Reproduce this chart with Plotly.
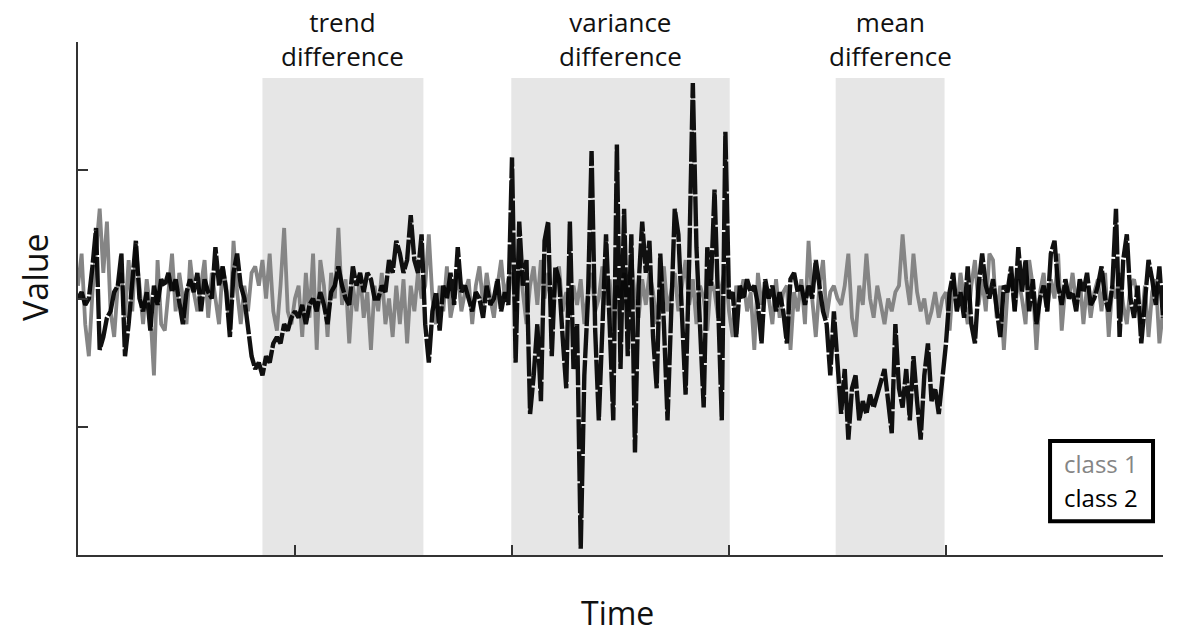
import plotly.graph_objects as go

# ---------------- data ----------------
# time index 0..300
time = list(range(301))

class1 = [
    # 0-50
    0.1, 0.35, -0.2, -0.45, 0.05, 0.4, 0.7, 0.2, 0.6, -0.1,
    -0.3, 0.1, 0.2, -0.15, 0.3, -0.1, 0.4, 0.1, -0.2, 0.15,
    -0.1, -0.6, 0.3, -0.2, -0.25, 0.05, 0.35, -0.1, 0.2, 0.0,
    -0.2, 0.3, 0.05, -0.1, 0.1, 0.3, -0.15, 0.2, 0.0, -0.2,
    0.25, 0.1, -0.25, 0.45, 0.05, -0.2, 0.1, -0.1, 0.2, 0.25,
    0.1,
    # 51-95
    0.3, 0.0, 0.35, -0.1, -0.25, 0.1, 0.55, -0.1, -0.2, 0.0,
    0.1, -0.3, 0.2, -0.15, 0.35, -0.4, 0.3, 0.1, -0.3, 0.2,
    0.0, 0.55, -0.05, 0.15, -0.35, 0.1, -0.1, 0.2, -0.15, 0.05,
    -0.4, 0.1, -0.1, 0.2, -0.2, 0.0, -0.3, 0.1, -0.2, 0.15,
    -0.35, 0.1, -0.1, 0.2, 0.0,
    # 96-119
    0.1, 0.5, 0.0, -0.2, 0.1, -0.1, 0.25, -0.15, 0.0, 0.2,
    -0.1, 0.05, 0.15, -0.2, 0.1, 0.25, -0.05, 0.2, 0.0, -0.15,
    0.1, 0.3, 0.0, 0.15,
    # 120-180
    0.2, -0.1, 0.3, 0.05, -0.2, 0.1, 0.25, -0.05, 0.3, 0.0,
    0.2, -0.15, 0.1, 0.25, -0.1, 0.05, -0.15, 0.1, -0.05, 0.15,
    -0.2, 0.05, 0.2, -0.1, 0.0, 0.25, -0.05, 0.15, -0.25, 0.1,
    0.0, 0.2, -0.1, 0.3, 0.0, -0.15, 0.15, -0.05, 0.2, 0.05,
    -0.2, 0.1, 0.25, -0.1, 0.05, 0.2, -0.1, 0.1, 0.3, -0.05,
    0.15, -0.2, 0.1, 0.0, -0.25, 0.15, 0.05, -0.15, 0.1, 0.25,
    -0.1,
    # 181-209
    -0.3, 0.1, 0.0, 0.15, -0.1, 0.05, -0.4, 0.2, -0.05, 0.1,
    0.0, -0.2, 0.15, -0.15, 0.05, 0.1, -0.4, 0.05, -0.1, 0.15,
    -0.2, 0.45, 0.0, -0.3, 0.1, 0.3, -0.15, 0.05, 0.1,
    # 210-239
    0.0, -0.05, 0.1, 0.35, -0.15, -0.3, 0.1, -0.05, 0.35, 0.0,
    -0.15, 0.1, -0.05, -0.2, 0.0, -0.1, 0.05, 0.1, 0.5, 0.15,
    -0.05, 0.35, 0.05, -0.1, 0.0, -0.2, -0.1, 0.05, -0.15, 0.0,
    # 240-300
    0.05, -0.25, 0.15, -0.1, 0.2, 0.0, -0.2, 0.1, 0.3, -0.05,
    0.15, -0.1, 0.35, 0.3, -0.15, 0.1, -0.4, 0.05, 0.2, -0.1,
    0.15, 0.0, -0.2, 0.3, 0.1, -0.4, 0.05, 0.2, -0.1, 0.15,
    0.0, 0.35, -0.25, 0.1, 0.0, 0.2, -0.05, 0.15, -0.2, 0.1,
    -0.15, 0.05, 0.15, -0.1, 0.2, -0.3, 0.1, 0.0, 0.2, -0.05,
    -0.2, 0.1, 0.15, 0.0, -0.2, 0.1, -0.3, 0.05, 0.15, -0.35,
    -0.1,
]

class2 = [
    # 0-50
    0.0, 0.05, -0.05, 0.0, 0.25, 0.55, -0.4, -0.3, -0.15, -0.1,
    0.05, 0.1, 0.35, -0.45, -0.2, 0.1, 0.45, 0.0, -0.1, 0.05,
    -0.25, 0.1, -0.05, 0.15, 0.1, 0.2, 0.05, 0.15, -0.05, -0.2,
    0.05, 0.15, 0.05, 0.2, -0.1, 0.15, 0.05, 0.0, 0.4, 0.1,
    0.25, 0.05, -0.3, 0.2, 0.35, 0.1, 0.0, -0.2, -0.45, -0.55,
    -0.5,
    # 51-95
    -0.6, -0.45, -0.5, -0.35, -0.3, -0.35, -0.2, -0.25, -0.15, -0.1,
    -0.15, -0.05, -0.2, -0.05, 0.0, -0.1, 0.05, -0.05, -0.2, 0.05,
    0.1, 0.25, 0.1, 0.0, -0.05, 0.25, 0.1, 0.2, 0.05, 0.2,
    0.15, 0.0, 0.0, 0.1, 0.05, 0.3, 0.2, 0.45, 0.35, 0.2,
    0.3, 0.65, 0.3, 0.2, 0.5,
    # 96-119
    -0.2, -0.5, -0.1, 0.05, -0.25, 0.1, 0.0, 0.2, -0.05, 0.4,
    0.05, 0.1, 0.0, -0.1, 0.05, 0.0, -0.15, 0.1, -0.05, 0.0,
    0.15, -0.1, 0.05, -0.05,
    # 120-180
    1.1, -0.5, 0.6, 0.1, 0.3, -0.9, -0.6, -0.2, -0.8, 0.45,
    0.6, -0.45, 0.25, 0.15, -0.3, -0.7, 0.6, -0.55, -0.2, -1.95,
    -0.6, 0.0, 1.15, -0.25, -0.95, -0.3, 0.5, -0.2, -0.95, 1.2,
    -0.55, 0.7, -0.45, 0.5, -1.2, 0.1, 0.6, 0.2, 0.45, -0.3,
    -0.7, 0.35, -0.2, -0.95, 0.0, 0.7, 0.5, -0.2, -0.75, 0.3,
    1.68, 0.4, -0.3, -0.85, 0.4, 0.1, 0.85, -0.2, -0.95, 1.3,
    0.0,
    # 181-209
    0.05, -0.3, 0.1, 0.0, 0.15, 0.05, 0.1, -0.05, -0.35, 0.15,
    0.0, 0.1, -0.1, 0.05, -0.1, -0.35, 0.15, 0.2, 0.05, 0.1,
    -0.05, 0.1, 0.0, 0.3, 0.1, -0.1, -0.2, -0.6, -0.1,
    # 210-239
    -0.5, -0.9, -0.55, -1.1, -0.7, -0.6, -0.95, -0.8, -0.9, -0.75,
    -0.85, -0.75, -0.65, -0.55, -0.8, -1.05, -0.2, -0.7, -0.85, -0.55,
    -0.95, -0.45, -0.8, -1.1, -0.6, -0.35, -0.8, -0.7, -0.9, -0.6,
    # 240-300
    -0.35, 0.05, 0.2, -0.1, 0.05, -0.15, 0.25, -0.2, -0.35, 0.1,
    0.35, 0.1, 0.0, 0.15, -0.05, -0.3, 0.1, 0.05, 0.25, -0.1,
    0.4, 0.05, 0.3, -0.1, 0.15, -0.2, 0.0, 0.1, -0.1, 0.35,
    0.45, 0.1, -0.05, 0.15, 0.0, 0.05, -0.1, 0.15, 0.05, 0.2,
    -0.05, 0.0, 0.1, 0.25, 0.0, -0.1, 0.1, 0.7, -0.3, 0.3,
    0.5, 0.0, -0.15, 0.1, -0.35, 0.0, 0.3, 0.15, -0.05, 0.25,
    -0.15,
]

# shaded regions: (start, end, label)
regions = [
    (51, 95.5, "trend<br>difference"),
    (119.8, 180.2, "variance<br>difference"),
    (209.5, 239.6, "mean<br>difference"),
]
series_names = ["class 1", "class 2"]
x_ticks = [0, 60, 120, 180, 240, 300]
y_ticks = [-2, -1, 0, 1, 2]

# ---------------- figure ----------------
FONT = "Open Sans, Noto Sans, sans-serif"
fig = go.Figure()

for x0, x1, _ in regions:
    fig.add_shape(type="rect", xref="x", yref="y", x0=x0, x1=x1, y0=-2, y1=1.72,
                  fillcolor="#e6e6e6", line=dict(width=0), layer="below")

fig.add_trace(go.Scatter(x=time, y=class1, mode="lines", name=series_names[0],
                         line=dict(color="#858585", width=3.8), showlegend=False))
fig.add_trace(go.Scatter(x=time, y=class2, mode="lines", name=series_names[1],
                         line=dict(color="#000000", width=4.4, dash="30px,2px"),
                         opacity=0.93, showlegend=False))

for x0, x1, label in regions:
    fig.add_annotation(x=(x0 + x1) / 2, xref="x", y=1.0066, yref="paper",
                       text=label, showarrow=False, xanchor="center", yanchor="middle",
                       font=dict(family=FONT, size=26, color="#111111"))

fig.add_annotation(x=-0.0396, xref="paper", y=0.542, yref="paper", text="Value",
                   textangle=-90, showarrow=False, xanchor="center", yanchor="middle",
                   font=dict(family=FONT, size=34, color="#111111"))
fig.add_annotation(x=0.4968, xref="paper", y=-0.113, yref="paper", text="Time",
                   showarrow=False, xanchor="center", yanchor="middle",
                   font=dict(family=FONT, size=32, color="#111111"))

# legend box
fig.add_shape(type="rect", xref="paper", yref="paper", x0=0.8959, x1=0.9908,
              y0=0.066, y1=0.2222, line=dict(color="black", width=4),
              fillcolor="white")
fig.add_annotation(x=0.9433, xref="paper", y=0.1793, yref="paper", text=series_names[0],
                   showarrow=False, xanchor="center", yanchor="middle",
                   font=dict(family=FONT, size=24, color="#858585"))
fig.add_annotation(x=0.9433, xref="paper", y=0.113, yref="paper", text=series_names[1],
                   showarrow=False, xanchor="center", yanchor="middle",
                   font=dict(family=FONT, size=24, color="#000000"))

axis_common = dict(showgrid=False, zeroline=False, showline=True, linecolor="#333333",
                   linewidth=2, ticks="inside", ticklen=10, tickwidth=2,
                   tickcolor="#333333", showticklabels=False)
fig.update_xaxes(range=[0, 300], tickvals=x_ticks, **axis_common)
fig.update_yaxes(range=[-2, 2], tickvals=y_ticks, **axis_common)

fig.update_layout(
    width=1179, height=633,
    margin=dict(l=78, r=16, t=42, b=78),
    plot_bgcolor="white", paper_bgcolor="white",
    showlegend=False,
)

fig.write_html("out.html")
